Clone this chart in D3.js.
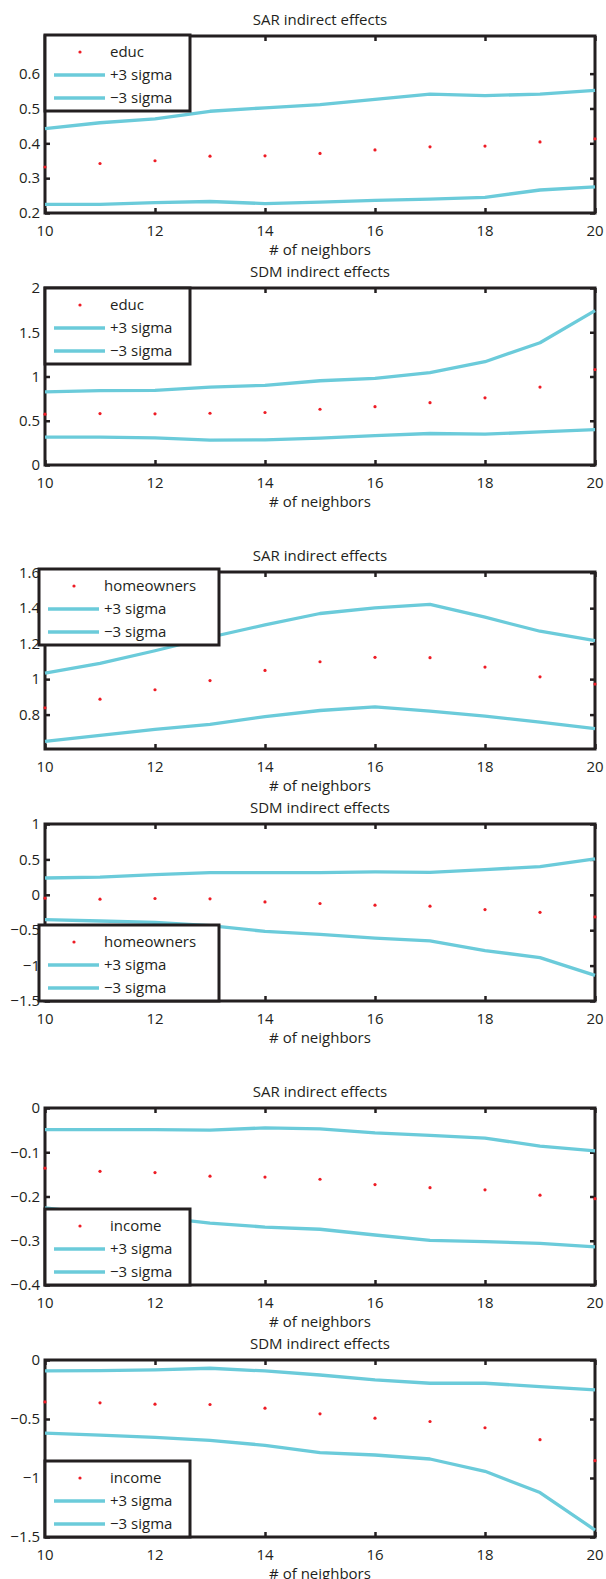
<!DOCTYPE html>
<html><head><meta charset="utf-8">
<script src="https://cdn.jsdelivr.net/npm/d3@7"></script>
<style>
html,body{margin:0;padding:0;background:#fff;}
svg{display:block;}
text{font-family:"Open Sans","Noto Sans",sans-serif;fill:#231f20;}
</style></head>
<body>
<script>
// ---------- data ----------
const neighbors = [10, 11, 12, 13, 14, 15, 16, 17, 18, 19, 20];

const educSarEst = [0.332, 0.342, 0.350, 0.363, 0.364, 0.371, 0.381, 0.390, 0.392, 0.404, 0.413];
const educSarUp  = [0.442, 0.459, 0.470, 0.492, 0.502, 0.511, 0.526, 0.541, 0.537, 0.541, 0.552];
const educSarLo  = [0.225, 0.225, 0.230, 0.233, 0.227, 0.231, 0.236, 0.240, 0.245, 0.266, 0.275];

const educSdmEst = [0.574, 0.581, 0.578, 0.585, 0.593, 0.630, 0.659, 0.704, 0.759, 0.881, 1.078];
const educSdmUp  = [0.826, 0.840, 0.844, 0.881, 0.900, 0.952, 0.978, 1.044, 1.167, 1.381, 1.744];
const educSdmLo  = [0.315, 0.315, 0.307, 0.281, 0.285, 0.304, 0.333, 0.356, 0.348, 0.374, 0.400];

const homeSarEst = [0.838, 0.887, 0.940, 0.992, 1.049, 1.098, 1.123, 1.121, 1.068, 1.013, 0.972];
const homeSarUp  = [1.034, 1.089, 1.160, 1.236, 1.306, 1.370, 1.402, 1.421, 1.349, 1.270, 1.217];
const homeSarLo  = [0.649, 0.683, 0.717, 0.745, 0.789, 0.823, 0.843, 0.819, 0.791, 0.757, 0.721];

const homeSdmEst = [-0.047, -0.062, -0.052, -0.057, -0.100, -0.123, -0.147, -0.161, -0.209, -0.247, -0.313];
const homeSdmUp  = [0.237, 0.251, 0.285, 0.313, 0.313, 0.313, 0.323, 0.318, 0.356, 0.398, 0.508];
const homeSdmLo  = [-0.351, -0.370, -0.389, -0.436, -0.517, -0.560, -0.612, -0.650, -0.787, -0.887, -1.139];

const incSarEst = [-0.136, -0.143, -0.146, -0.154, -0.156, -0.161, -0.173, -0.180, -0.185, -0.197, -0.205];
const incSarUp  = [-0.049, -0.049, -0.049, -0.050, -0.045, -0.047, -0.056, -0.062, -0.068, -0.086, -0.097];
const incSarLo  = [-0.226, -0.240, -0.246, -0.260, -0.269, -0.274, -0.287, -0.299, -0.302, -0.306, -0.314];

const incSdmEst = [-0.355, -0.363, -0.374, -0.377, -0.408, -0.456, -0.493, -0.521, -0.574, -0.675, -0.853];
const incSdmUp  = [-0.093, -0.090, -0.084, -0.070, -0.093, -0.127, -0.169, -0.197, -0.197, -0.225, -0.253];
const incSdmLo  = [-0.619, -0.636, -0.656, -0.681, -0.723, -0.785, -0.805, -0.839, -0.943, -1.123, -1.441];

const xTicks = [10, 12, 14, 16, 18, 20];
const yTicks1 = [0.2, 0.3, 0.4, 0.5, 0.6];
const yTicks2 = [0, 0.5, 1, 1.5, 2];
const yTicks3 = [0.8, 1, 1.2, 1.4, 1.6];
const yTicks4 = [-1.5, -1, -0.5, 0, 0.5, 1];
const yTicks5 = [-0.4, -0.3, -0.2, -0.1, 0];
const yTicks6 = [-1.5, -1, -0.5, 0];

const titles = ["SAR indirect effects", "SDM indirect effects"];
const xLabel = "# of neighbors";
const legendLabels = ["+3 sigma", "\u22123 sigma"];

// ---------- layout ----------
const W = 606, H = 1579;
const L = 45, R = 595, PH = 177;
const tops = [36, 288, 572, 824, 1108, 1360];
const lineColor = "#6bcbda";
const dotColor = "#ee1c25";
const FS = "15px";

const panels = [
  {title: titles[0], name: "educ", est: educSarEst, up: educSarUp, lo: educSarLo, dom: [0.2, 0.708], ticks: yTicks1, leg: {x: 45, w: 145, pos: "top", dy: -1}},
  {title: titles[1], name: "educ", est: educSdmEst, up: educSdmUp, lo: educSdmLo, dom: [0, 2], ticks: yTicks2, leg: {x: 45, w: 145, pos: "top", dy: 0}},
  {title: titles[0], name: "homeowners", est: homeSarEst, up: homeSarUp, lo: homeSarLo, dom: [0.606, 1.604], ticks: yTicks3, leg: {x: 39, w: 180, pos: "top", dy: -3}},
  {title: titles[1], name: "homeowners", est: homeSdmEst, up: homeSdmUp, lo: homeSdmLo, dom: [-1.5, 1], ticks: yTicks4, leg: {x: 39, w: 180, pos: "bottom", dy: 0}},
  {title: titles[0], name: "income", est: incSarEst, up: incSarUp, lo: incSarLo, dom: [-0.4, 0], ticks: yTicks5, leg: {x: 45, w: 145, pos: "bottom", dy: 0}},
  {title: titles[1], name: "income", est: incSdmEst, up: incSdmUp, lo: incSdmLo, dom: [-1.5, 0], ticks: yTicks6, leg: {x: 45, w: 145, pos: "bottom", dy: 0}}
];

const fmt = d => (d < 0 ? "\u2212" : "") + String(+Math.abs(d).toFixed(2));

const svg = d3.select("body").append("svg").attr("width", W).attr("height", H);

const x = d3.scaleLinear().domain([10, 20]).range([L, R]);

panels.forEach((p, i) => {
  const top = tops[i], bot = top + PH;
  const y = d3.scaleLinear().domain(p.dom).range([bot, top]);
  const g = svg.append("g");

  // title
  g.append("text").attr("x", (L + R) / 2).attr("y", top - 16).attr("dy", "0.35em")
    .attr("text-anchor", "middle").style("font-size", FS).text(p.title);

  // axes (box with inward ticks)
  const tl = 5;
  const axB = d3.axisBottom(x).tickValues(xTicks).tickSize(tl).tickFormat("");
  const axT = d3.axisTop(x).tickValues(xTicks).tickSize(tl).tickFormat("");
  const axLft = d3.axisLeft(y).tickValues(p.ticks).tickSize(tl).tickFormat("");
  const axRgt = d3.axisRight(y).tickValues(p.ticks).tickSize(tl).tickFormat("");
  g.append("g").attr("transform", `translate(0,${bot - tl})`).call(axB);
  g.append("g").attr("transform", `translate(0,${top + tl})`).call(axT);
  g.append("g").attr("transform", `translate(${L + tl},0)`).call(axLft);
  g.append("g").attr("transform", `translate(${R - tl},0)`).call(axRgt);
  g.selectAll(".domain").remove();
  g.selectAll(".tick line").attr("stroke", "#231f20").attr("stroke-width", 2.5);

  g.append("rect").attr("x", L).attr("y", top).attr("width", R - L).attr("height", PH)
    .attr("fill", "none").attr("stroke", "#231f20").attr("stroke-width", 3);

  // tick labels
  g.selectAll(".xl").data(xTicks).enter().append("text")
    .attr("x", d => x(d)).attr("y", bot + 18).attr("dy", "0.35em")
    .attr("text-anchor", "middle").style("font-size", FS).text(d => d);
  g.selectAll(".yl").data(p.ticks).enter().append("text")
    .attr("x", L - 5).attr("y", d => y(d)).attr("dy", "0.35em")
    .attr("text-anchor", "end").style("font-size", FS).text(fmt);
  g.append("text").attr("x", (L + R) / 2).attr("y", bot + 37).attr("dy", "0.35em")
    .attr("text-anchor", "middle").style("font-size", FS).text(xLabel);

  // data
  const line = d3.line().x((d, j) => x(neighbors[j])).y(d => y(d));
  [p.up, p.lo].forEach(arr => {
    g.append("path").datum(arr).attr("d", line).attr("fill", "none")
      .attr("stroke", lineColor).attr("stroke-width", 3.3).attr("stroke-linejoin", "round");
  });
  g.selectAll(".dot").data(p.est).enter().append("circle")
    .attr("cx", (d, j) => x(neighbors[j])).attr("cy", d => y(d)).attr("r", 1.6).attr("fill", dotColor);

  // legend
  const lh = 76;
  const by = p.leg.pos === "top" ? top + p.leg.dy : bot - lh;
  const bx = p.leg.x;
  const lg = g.append("g");
  lg.append("rect").attr("x", bx).attr("y", by).attr("width", p.leg.w).attr("height", lh)
    .attr("fill", "#fff").attr("stroke", "#231f20").attr("stroke-width", 3);
  const rows = [by + 17, by + 40, by + 63];
  lg.append("circle").attr("cx", bx + 35).attr("cy", rows[0]).attr("r", 1.6).attr("fill", dotColor);
  lg.append("text").attr("x", bx + 65).attr("y", rows[0]).attr("dy", "0.35em").style("font-size", FS).text(p.name);
  legendLabels.forEach((t, k) => {
    lg.append("line").attr("x1", bx + 9).attr("x2", bx + 60).attr("y1", rows[k + 1]).attr("y2", rows[k + 1])
      .attr("stroke", lineColor).attr("stroke-width", 3.3);
    lg.append("text").attr("x", bx + 65).attr("y", rows[k + 1]).attr("dy", "0.35em").style("font-size", FS).text(t);
  });
});
</script>
</body></html>
